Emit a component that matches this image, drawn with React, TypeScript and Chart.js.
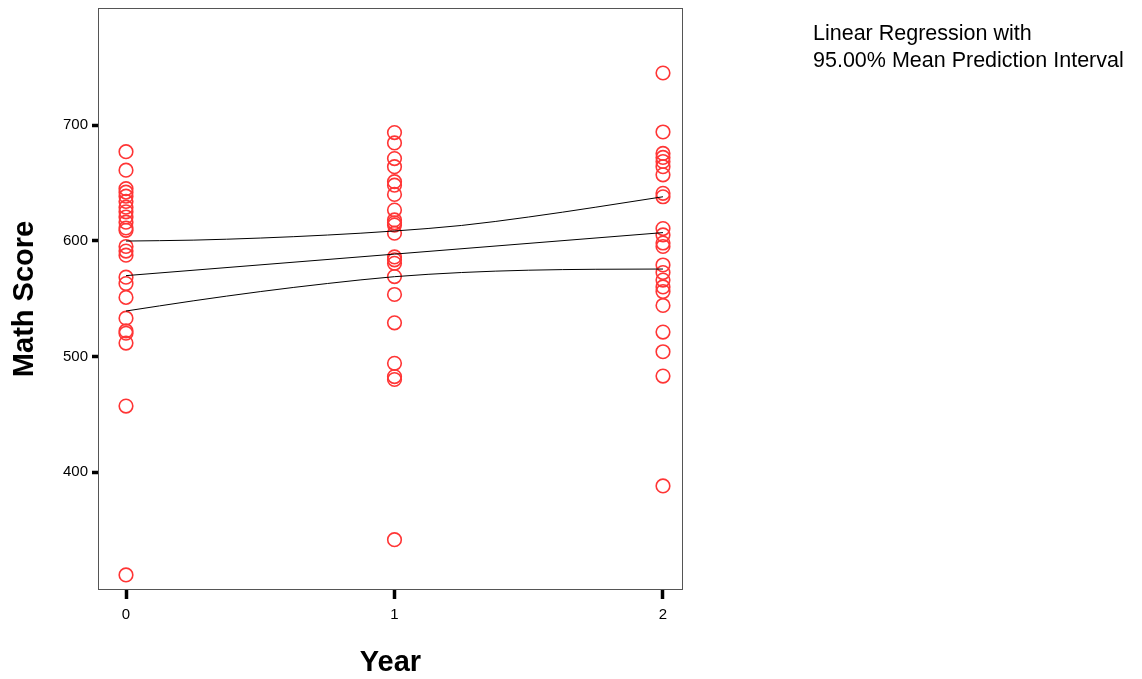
import React, { useEffect, useRef } from "react";
import { Chart, registerables } from "chart.js";

Chart.register(...registerables);

// Scatter observations (year, math score)
const year0Scores = [677, 661, 645, 642, 638.5, 634, 629, 625, 620.5, 616, 611, 609, 595, 591, 587.5, 568.5, 563, 551, 533, 522, 520, 511.5, 457, 311];
const year1Scores = [693.5, 684.5, 671, 664, 651, 648, 640, 626.5, 618, 615.5, 613.5, 606.5, 586, 583.5, 580.5, 569, 553.5, 529, 494, 482.5, 480, 341.5];
const year2Scores = [745, 694, 675.5, 672, 668.5, 664, 657, 641, 638, 610.5, 605, 598, 595, 579, 572.5, 566, 560, 556, 544, 521, 504, 483, 388];

// Regression line and 95% mean prediction band
const fitX = [0, 2];
const fitY = [569.8, 607];
const bandX = [0, 0.25, 0.5, 0.75, 1, 1.25, 1.5, 1.75, 2];
const upperY = [599.7, 600.5, 602.3, 604.9, 608.4, 613.2, 620.5, 629, 638];
const lowerY = [539.2, 548, 556, 563, 568.9, 572.5, 574.5, 575.3, 575.5];

const xTicks = [0, 1, 2];
const yTicks = [400, 500, 600, 700];

const legendLines = ["Linear Regression with", "95.00% Mean Prediction Interval"];
const xTitle = "Year";
const yTitle = "Math Score";

const FONT = "'Liberation Sans', Arial, sans-serif";

function zeroPad(scale: any) {
  scale.paddingTop = 0;
  scale.paddingBottom = 0;
  scale.paddingLeft = 0;
  scale.paddingRight = 0;
}

export default function App() {
  const ref = useRef<HTMLCanvasElement | null>(null);

  useEffect(() => {
    document.body.style.margin = "0";
    const canvas = ref.current;
    if (!canvas) return;

    const pts = [
      ...year0Scores.map((y) => ({ x: 0, y })),
      ...year1Scores.map((y) => ({ x: 1, y })),
      ...year2Scores.map((y) => ({ x: 2, y })),
    ];

    const framePlugin = {
      id: "frameAndNote",
      beforeDatasetsDraw(chart: any) {
        const { ctx, chartArea } = chart;
        ctx.save();
        ctx.strokeStyle = "#555555";
        ctx.lineWidth = 1;
        ctx.strokeRect(
          Math.round(chartArea.left) + 0.5,
          Math.round(chartArea.top) + 0.5,
          Math.round(chartArea.right - chartArea.left) - 1,
          Math.round(chartArea.bottom - chartArea.top) - 1
        );
        ctx.restore();
      },
      afterDraw(chart: any) {
        const { ctx } = chart;
        ctx.save();
        ctx.fillStyle = "#000";
        ctx.font = `21.5px ${FONT}`;
        ctx.textBaseline = "middle";
        ctx.textAlign = "left";
        ctx.fillText(legendLines[0], 813, 34);
        ctx.fillText(legendLines[1], 813, 61);
        ctx.restore();
      },
    };

    const lineStyle = {
      type: "line" as const,
      showLine: true,
      borderColor: "#000",
      borderWidth: 1,
      pointRadius: 0,
      fill: false,
      cubicInterpolationMode: "monotone" as const,
    };

    const chart = new Chart(canvas, {
      type: "scatter",
      data: {
        datasets: [
          {
            ...lineStyle,
            label: "Upper",
            data: bandX.map((x, i) => ({ x, y: upperY[i] })),
          },
          {
            ...lineStyle,
            label: "Fit",
            data: fitX.map((x, i) => ({ x, y: fitY[i] })),
          },
          {
            ...lineStyle,
            label: "Lower",
            data: bandX.map((x, i) => ({ x, y: lowerY[i] })),
          },
          {
            type: "scatter",
            label: "Scores",
            data: pts,
            pointStyle: "circle",
            pointRadius: 6.8,
            pointBorderWidth: 1.6,
            pointBackgroundColor: "rgba(0,0,0,0)",
            pointBorderColor: "#ff3535",
            borderColor: "#ff3535",
            backgroundColor: "rgba(0,0,0,0)",
          },
        ],
      },
      options: {
        responsive: false,
        animation: false,
        layout: { autoPadding: false, padding: { left: 0, right: 459, top: 8, bottom: 0 } },
        plugins: {
          legend: { display: false },
          tooltip: { enabled: false },
        },
        scales: {
          x: {
            type: "linear",
            min: -0.1043,
            max: 2.0745,
            afterBuildTicks: (scale: any) => {
              scale.ticks = xTicks.map((v) => ({ value: v }));
            },
            afterFit: (scale: any) => {
              scale.height = 89;
              zeroPad(scale);
            },
            border: { display: false },
            grid: {
              drawOnChartArea: false,
              drawTicks: true,
              tickLength: 9,
              tickWidth: 3.5,
              tickColor: "#000",
              color: "#000",
            },
            ticks: {
              color: "#000",
              font: { family: FONT, size: 15 },
              padding: 7,
              maxRotation: 0,
              callback: (v: any) => String(v),
            },
            title: {
              display: true,
              text: xTitle,
              color: "#000",
              font: { family: FONT, size: 29, weight: "bold" },
              padding: { top: 0, bottom: -1 },
            },
          },
          y: {
            type: "linear",
            min: 298,
            max: 801.2,
            afterBuildTicks: (scale: any) => {
              scale.ticks = yTicks.map((v) => ({ value: v }));
            },
            afterFit: (scale: any) => {
              scale.width = 98;
              zeroPad(scale);
            },
            border: { display: false },
            grid: {
              drawOnChartArea: false,
              drawTicks: true,
              tickLength: 6,
              tickWidth: 3.5,
              tickColor: "#000",
              color: "#000",
            },
            ticks: {
              color: "#000",
              font: { family: FONT, size: 15 },
              padding: 4,
              callback: (v: any) => String(v),
            },
            title: {
              display: true,
              text: yTitle,
              color: "#000",
              font: { family: FONT, size: 29, weight: "bold" },
              padding: { top: 8, bottom: 0 },
            },
          },
        },
      },
      plugins: [framePlugin],
    });

    return () => chart.destroy();
  }, []);

  return (
    <div style={{ position: "fixed", left: 0, top: 0, width: 1142, height: 679, background: "#fff" }}>
      <canvas ref={ref} width={1142} height={679} style={{ display: "block" }} />
    </div>
  );
}
